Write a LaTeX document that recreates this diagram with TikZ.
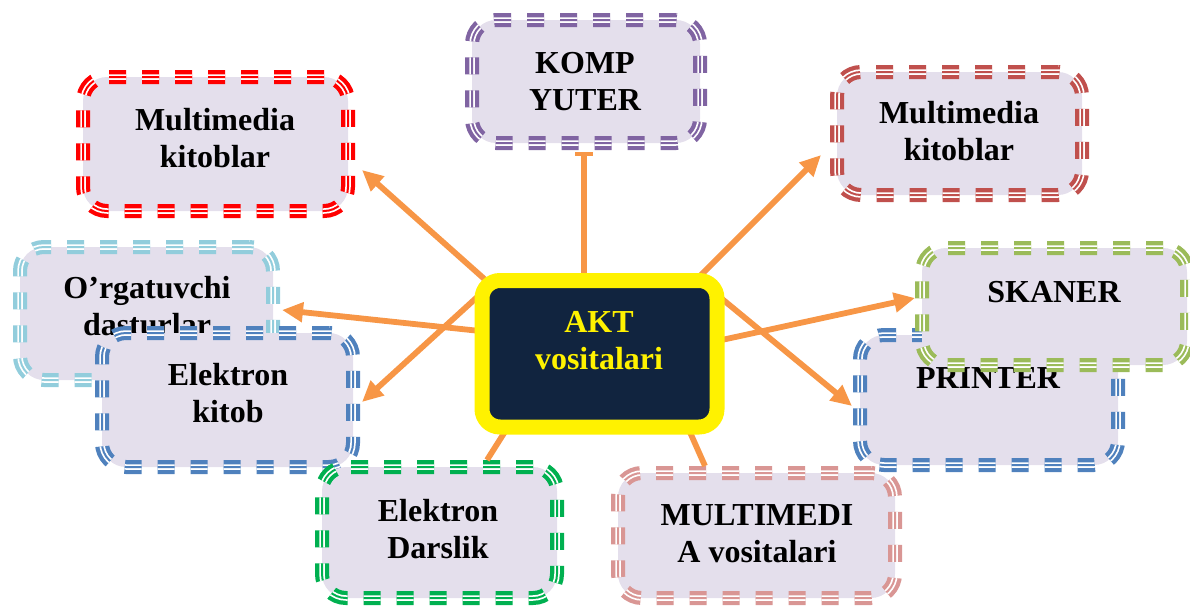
\documentclass[tikz,border=0pt]{standalone}
\usepackage{fontspec}
\setmainfont{Liberation Serif}
\usetikzlibrary{arrows.meta,calc}

\definecolor{boxfill}{HTML}{E4DFEC}
\definecolor{linkorange}{HTML}{F79646}
\definecolor{navy}{HTML}{11243F}
\definecolor{brightred}{HTML}{FF0000}
\definecolor{violet}{HTML}{8064A2}
\definecolor{darkred}{HTML}{C0504D}
\definecolor{skyblue}{HTML}{92CDDC}
\definecolor{steelblue}{HTML}{4F81BD}
\definecolor{limegreen}{HTML}{9BBB59}
\definecolor{grassgreen}{HTML}{00B050}
\definecolor{rosepink}{HTML}{D99694}

% two centred lines with equal strut heights
\newcommand\twoline[2]{\strut#1\\\strut#2}

\tikzset{
  % rounded box with a triple-striped dashed border
  box/.style={rectangle, rounded corners=24pt, inner sep=0pt, fill=boxfill,
    draw=#1, line width=14pt, dash pattern=on 17pt off 16pt,
    postaction={draw=white, line width=5.5pt, dash pattern=on 17pt off 16pt},
    postaction={draw=#1, line width=2pt, dash pattern=on 17pt off 16pt}},
  txt/.style={font=\fontsize{32}{37}\selectfont\bfseries, align=center,
    inner sep=0pt, text=black},
  conn/.style={draw=linkorange, line width=5.8pt},
  tip/.style={-{Triangle[length=21pt,width=19pt]}},
  hub/.style={rectangle, rounded corners=18pt, inner sep=0pt, fill=navy,
    draw=yellow, line width=15pt}
}

\begin{document}
\begin{tikzpicture}[x=1pt,y=-1pt]
\useasboundingbox (0,0) rectangle (1190,605);

% left column
\node[box=skyblue, minimum width=253pt, minimum height=133pt] (org) at (146.5,313.5) {};
\node[txt] (torg) at (147,309.1) {\twoline{O’rgatuvchi}{dasturlar}};
\node[box=steelblue, minimum width=251pt, minimum height=134pt] (ekit) at (227.5,400) {};
\node[txt] (tekit) at (228,396.1) {\twoline{Elektron}{kitob}};

% top row
\node[box=brightred, minimum width=265pt, minimum height=134pt] (mk1) at (215.5,144) {};
\node[txt] (tmk1) at (215,141.1) {\twoline{Multimedia}{kitoblar}};
\node[box=violet, minimum width=228pt, minimum height=123pt] (komp) at (586,81.5) {};
\node[txt] (tkomp) at (585,84.1) {\twoline{KOMP}{YUTER}};
\node[box=darkred, minimum width=245pt, minimum height=123pt] (mk2) at (959.5,133.5) {};
\node[txt] (tmk2) at (959,134.1) {\twoline{Multimedia}{kitoblar}};

% right column and bottom row
\node[box=rosepink, minimum width=277pt, minimum height=125pt] (mmv) at (756.5,535.5) {};
\node[txt] (tmmv) at (757,536.1) {\twoline{MULTIMEDI}{A vositalari}};
\node[box=steelblue, minimum width=258pt, minimum height=130pt] (prn) at (989,400) {};
\node[txt] (tprn) at (988,380.6) {\strut PRINTER};
\node[box=limegreen, minimum width=265pt, minimum height=117pt] (skan) at (1054.5,306.5) {};
\node[txt] (tskan) at (1054,294.6) {\strut SKANER};
\node[box=grassgreen, minimum width=235pt, minimum height=131pt] (edars) at (439.5,532.5) {};
\node[txt] (tedars) at (438,532.1) {\twoline{Elektron}{Darslik}};

% outline of the hub, used to anchor the connectors
\coordinate (akt) at (599.5,353.75);
\path (akt) node[minimum width=235pt, minimum height=146.5pt, inner sep=0pt] (hubshape) {};

% connectors from the hub
\draw[conn,tip] ($(hubshape.north west)+(8,3.5)$) -- ($(mk1.east)+(7,26)$);
\draw[conn,-{Rectangle[length=4pt,width=18pt]}] ($(hubshape.north)+(-15.5,6)$) -- ($(komp.south)+(-2,2)$);
\draw[conn,tip] ($(hubshape.north east)+(-19,-2.5)$) -- ($(mk2.west)+(-9,21.5)$);
\draw[conn,tip] ($(hubshape.west)+(-4,-23)$) -- ($(org.east)+(2,-3.5)$);
\draw[conn,tip] ($(hubshape.west)+(-1,-60)$) -- ($(ekit.east)+(2,2)$);
\draw[conn,tip] ($(hubshape.east)+(1,-58)$) -- ($(prn.west)+(-1,6)$);
\draw[conn,tip] ($(hubshape.east)+(1,-13)$) -- ($(skan.west)+(0,-8.5)$);
\draw[conn] ($(hubshape.south west)+(26,0)$) -- ($(edars.north)+(47.5,0)$);
\draw[conn] ($(hubshape.south east)+(-29,1)$) -- ($(mmv.north)+(-51.5,0)$);

% central hub box
\node[hub, minimum width=235pt, minimum height=146.5pt] (hub) at (akt) {};
\node[txt, text=yellow] (thub) at (599,343.1) {\twoline{AKT}{vositalari}};
\end{tikzpicture}
\end{document}
